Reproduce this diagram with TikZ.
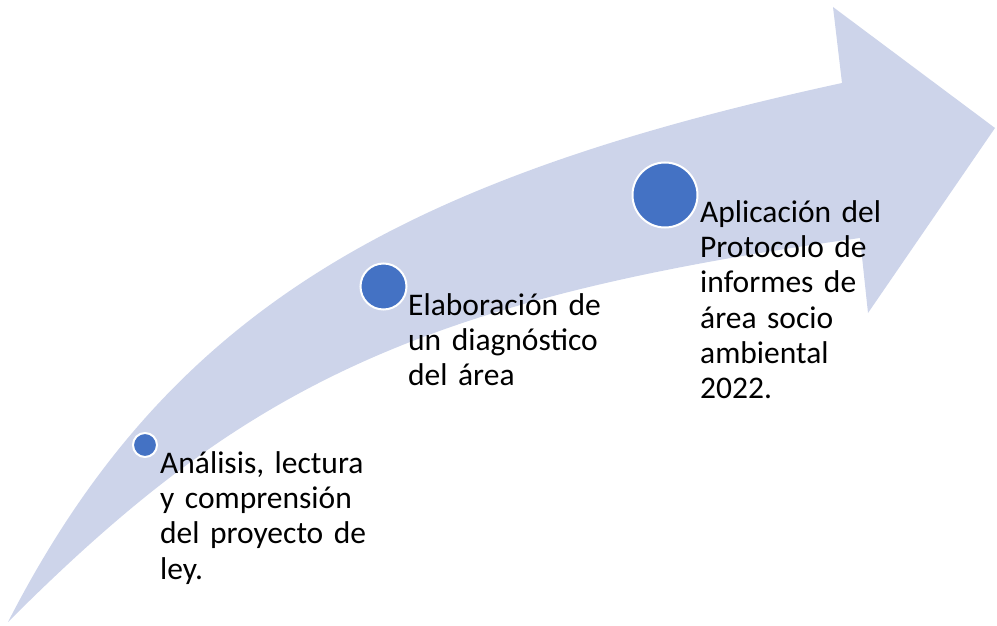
\documentclass[tikz,border=0pt]{standalone}
\usepackage{fontspec}
\setmainfont{Carlito}
\definecolor{arrowfill}{HTML}{CDD4EA}
\definecolor{dotblue}{HTML}{4472C4}
\begin{document}
\begin{tikzpicture}[x=1pt,y=-1pt,
  dot/.style={circle,fill=dotblue,draw=white,line width=2pt,inner sep=0pt},
  lbl/.style={anchor=base west,inner sep=0pt,align=left,text width=260pt,
    font=\fontsize{31.5}{35.4}\selectfont,text=black}]
\useasboundingbox (0,0) rectangle (997,626);
% curved arrow
\fill[arrowfill] (8,622) .. controls (168,310) and (400,179) .. (842,83)
  -- (833,7) -- (995,128) -- (868,313) -- (860,238)
  .. controls (410,300) and (238,392) .. (8,622) -- cycle;
% dots
\node[dot,minimum size=24pt] (d1) at (145,445) {};
\node[dot,minimum size=46pt] (d2) at (383.5,286.5) {};
\node[dot,minimum size=65pt] (d3) at (665,195) {};
% labels
\node[lbl] (t1) at (160,473) {Análisis, lectura\\y comprensión\\del proyecto de\\ley.};
\node[lbl] (t2) at (408,315) {Elaboración de\\un diagnóstico\\del área};
\node[lbl] (t3) at (700,222) {Aplicación del\\Protocolo de\\informes de\\área socio\\ambiental\\2022.};
\end{tikzpicture}
\end{document}
